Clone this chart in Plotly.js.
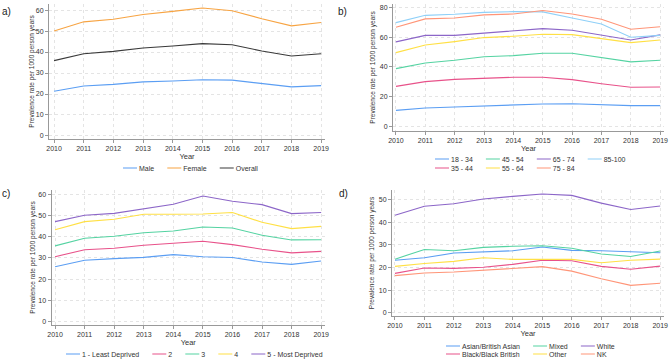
<!DOCTYPE html>
<html>
<head>
<meta charset="utf-8">
<script src="https://cdn.plot.ly/plotly-3.0.1.min.js"></script>
<style>html,body{margin:0;padding:0;background:#fff;}#chart{width:669px;height:360px;}</style>
</head>
<body>
<div id="chart"></div>
<script>
const years = [2010, 2011, 2012, 2013, 2014, 2015, 2016, 2017, 2018, 2019];

// Panel a) sex
const male    = [21.3, 23.8, 24.6, 25.8, 26.2, 26.8, 26.6, 24.9, 23.4, 24.0];
const female  = [50.0, 54.4, 55.6, 57.9, 59.4, 61.0, 59.7, 55.9, 52.5, 54.1];
const overall = [35.9, 39.2, 40.3, 41.9, 42.9, 44.0, 43.5, 40.5, 38.1, 39.2];

// Panel b) age groups
const age18_34  = [10.9, 12.5, 13.2, 13.9, 14.3, 15.2, 15.4, 14.7, 14.1, 14.1];
const age35_44  = [27.0, 30.2, 31.7, 32.6, 33.1, 33.1, 31.5, 28.8, 26.4, 26.6];
const age45_54  = [38.9, 42.7, 44.5, 46.9, 47.6, 49.2, 49.2, 46.5, 43.4, 44.5];
const age55_64  = [49.6, 54.7, 57.0, 59.7, 60.6, 61.9, 61.7, 59.2, 56.3, 58.1];
const age65_74  = [56.8, 61.2, 61.2, 62.8, 64.4, 65.7, 64.6, 61.2, 58.1, 61.5];
const age75_84  = [66.6, 72.2, 72.8, 74.9, 75.5, 77.8, 75.5, 72.0, 65.3, 67.0];
const age85_100 = [69.7, 74.6, 75.3, 76.6, 77.1, 76.9, 72.8, 68.8, 59.9, 61.2];

// Panel c) deprivation quintiles
const dep1 = [25.9, 28.9, 29.7, 30.3, 31.6, 30.6, 30.2, 28.1, 27.0, 28.6];
const dep2 = [30.6, 33.9, 34.6, 36.0, 36.9, 37.9, 36.3, 34.1, 32.4, 33.1];
const dep3 = [35.7, 39.3, 40.2, 41.9, 42.7, 44.6, 44.1, 40.7, 38.5, 38.6];
const dep4 = [43.3, 47.1, 48.2, 50.6, 50.6, 50.7, 51.4, 46.8, 43.8, 44.9];
const dep5 = [47.1, 50.1, 51.0, 53.2, 55.3, 59.2, 56.7, 55.1, 50.9, 51.4];

// Panel d) ethnicity
const asian = [23.2, 24.3, 26.4, 26.8, 27.4, 29.1, 27.6, 27.4, 27.0, 26.5];
const black = [17.4, 19.8, 19.6, 20.1, 21.4, 23.2, 23.0, 20.5, 19.2, 20.6];
const mixed = [23.7, 28.0, 27.4, 28.9, 29.4, 29.6, 28.5, 26.0, 24.9, 27.3];
const other = [20.5, 21.8, 22.7, 24.3, 23.6, 23.7, 23.6, 22.1, 23.2, 23.7];
const white = [43.1, 47.1, 48.2, 50.3, 51.5, 52.5, 51.9, 48.5, 45.7, 47.2];
const nk    = [16.4, 17.6, 18.0, 18.7, 19.5, 20.4, 18.4, 15.0, 12.1, 13.0];

const yTicksA = [0, 10, 20, 30, 40, 50, 60];
const yTicksB = [0, 20, 40, 60, 80];
const yTicksC = [0, 10, 20, 30, 40, 50, 60];
const yTicksD = [0, 10, 20, 30, 40, 50];

const C = {
  blue: '#5b9ef3', orange: '#f7a443', dark: '#3a3a3a', pink: '#e8528a',
  green: '#55d3a2', yellow: '#ffe045', purple: '#8c66c8', salmon: '#ff9578', sky: '#8fd0f8'
};

const W = 669, H = 360;
const px = v => v / W;
const py = v => 1 - v / H;

function tr(name, y, color, ax, legend) {
  return {
    x: years, y: y, name: name, type: 'scatter', mode: 'lines',
    line: {color: color, width: 1.1},
    xaxis: 'x' + (ax === 1 ? '' : ax), yaxis: 'y' + (ax === 1 ? '' : ax),
    legend: legend, hoverinfo: 'skip'
  };
}

const data = [
  tr('Male', male, C.blue, 1, 'legend'),
  tr('Female', female, C.orange, 1, 'legend'),
  tr('Overall', overall, C.dark, 1, 'legend'),

  tr('18 - 34', age18_34, C.blue, 2, 'legend2'),
  tr('45 - 54', age45_54, C.green, 2, 'legend2'),
  tr('65 - 74', age65_74, C.purple, 2, 'legend2'),
  tr('85-100', age85_100, C.sky, 2, 'legend2'),
  tr('35 - 44', age35_44, C.pink, 2, 'legend3'),
  tr('55 - 64', age55_64, C.yellow, 2, 'legend3'),
  tr('75 - 84', age75_84, C.salmon, 2, 'legend3'),

  tr('1 - Least Deprived', dep1, C.blue, 3, 'legend4'),
  tr('2', dep2, C.pink, 3, 'legend4'),
  tr('3', dep3, C.green, 3, 'legend4'),
  tr('4', dep4, C.yellow, 3, 'legend4'),
  tr('5 - Most Deprived', dep5, C.purple, 3, 'legend4'),

  tr('Asian/British Asian', asian, C.blue, 4, 'legend5'),
  tr('Mixed', mixed, C.green, 4, 'legend5'),
  tr('White', white, C.purple, 4, 'legend5'),
  tr('Black/Black British', black, C.pink, 4, 'legend6'),
  tr('Other', other, C.yellow, 4, 'legend6'),
  tr('NK', nk, C.salmon, 4, 'legend6')
];

const font = {family: 'Liberation Sans, Arial, sans-serif', size: 7, color: '#333'};
const tickFont = {family: 'Liberation Sans, Arial, sans-serif', size: 7, color: '#333'};

function xax(l, r) {
  return {
    domain: [px(l), px(r)],
    tickvals: years, ticktext: years.map(String), tickfont: tickFont,
    ticks: 'outside', ticklen: 3, tickcolor: '#999', tickwidth: 1,
    showline: true, linecolor: '#999', linewidth: 1, mirror: false,
    showgrid: true, gridcolor: '#e4e4e4', griddash: 'dot', gridwidth: 1,
    zeroline: false, fixedrange: true, automargin: false,
    title: {text: 'Year', font: {family: font.family, size: 7.5, color: '#333'}, standoff: 1}
  };
}
function yax(t, b, range, ticks, standoff) {
  return {
    domain: [py(b), py(t)], range: range,
    tickvals: ticks, tickfont: tickFont,
    ticks: 'outside', ticklen: 3, tickcolor: '#999', tickwidth: 1,
    showline: true, linecolor: '#999', linewidth: 1,
    showgrid: true, gridcolor: '#e4e4e4', griddash: 'dot', gridwidth: 1,
    zeroline: false, fixedrange: true, automargin: false,
    title: {text: 'Prevalence rate per 1000 person years', font: {family: font.family, size: 6.5, color: '#333'}, standoff: standoff}
  };
}

const legBase = {
  orientation: 'h', font: {family: font.family, size: 7, color: '#333'},
  bgcolor: 'rgba(0,0,0,0)', borderwidth: 0, xanchor: 'left', yanchor: 'middle',
  itemwidth: 30, tracegroupgap: 0, itemclick: false, itemdoubleclick: false
};
function leg(x, y) {
  return Object.assign({}, legBase, {x: px(x), y: py(y)});
}

const layout = {
  width: W, height: H, margin: {l: 0, r: 0, t: 0, b: 0, pad: 0, autoexpand: false},
  paper_bgcolor: '#fff', plot_bgcolor: '#fff', font: font, showlegend: true,
  xaxis:  Object.assign(xax(49, 325), {anchor: 'y',  range: [2009.83, 2019.13]}),
  yaxis:  Object.assign(yax(4, 139, [-1.45, 62.9], yTicksA, 0), {anchor: 'x'}),
  xaxis2: Object.assign(xax(393, 664), {anchor: 'y2', range: [2009.9, 2019.13]}),
  yaxis2: Object.assign(yax(4, 131, [-2.9, 82.2], yTicksB, 3), {anchor: 'x2'}),
  xaxis3: Object.assign(xax(51.5, 325), {anchor: 'y3', range: [2009.88, 2019.13]}),
  yaxis3: Object.assign(yax(190, 325, [-1.55, 62], yTicksC, 2), {anchor: 'x3'}),
  xaxis4: Object.assign(xax(392, 664), {anchor: 'y4', range: [2009.9, 2019.13]}),
  yaxis4: Object.assign(yax(190, 316, [-1.46, 54.3], yTicksD, 3), {anchor: 'x4'}),
  legend:  leg(118, 168),
  legend2: leg(430, 159),
  legend3: leg(430, 168),
  legend4: leg(61, 354),
  legend5: leg(441, 346),
  legend6: leg(441, 354),
  annotations: [
    {text: 'a)', x: 0, y: py(12), xref: 'paper', yref: 'paper', xanchor: 'left', yanchor: 'middle', showarrow: false, font: {family: font.family, size: 10, color: '#222'}},
    {text: 'b)', x: px(336), y: py(12), xref: 'paper', yref: 'paper', xanchor: 'left', yanchor: 'middle', showarrow: false, font: {family: font.family, size: 10, color: '#222'}},
    {text: 'c)', x: 0, y: py(193), xref: 'paper', yref: 'paper', xanchor: 'left', yanchor: 'middle', showarrow: false, font: {family: font.family, size: 10, color: '#222'}},
    {text: 'd)', x: px(337), y: py(193), xref: 'paper', yref: 'paper', xanchor: 'left', yanchor: 'middle', showarrow: false, font: {family: font.family, size: 10, color: '#222'}}
  ]
};

// Compact legend entries: shorter line sample, columns placed where the reference puts them.
const LEGEND_ROWS = [
  {ids: ['legend'], cols: [123, 165, 218]},
  {ids: ['legend2', 'legend3'], cols: [435, 484, 533, 582]},
  {ids: ['legend4'], cols: [66, 138, 182, 213, 243]},
  {ids: ['legend5', 'legend6'], cols: [446, 533, 579]}
];
function legendText(it) {
  return it.querySelector('text[class^="legend"][class$="text"]');
}
function compactLegends() {
  const gd = document.getElementById('chart');
  const SAMPLE = 14, TEXT_X = 5 + SAMPLE + 2, GAP = 8;
  LEGEND_ROWS.forEach(grp => {
    const rows = grp.ids.map(id => {
      const g = gd.querySelector('.infolayer > g.' + id);
      let lx = null;
      if (g) {
        const m = /translate\(\s*([-\d.]+)/.exec(g.getAttribute('transform') || '');
        if (m) lx = parseFloat(m[1]);
      }
      return {lx: lx, items: g ? Array.from(g.querySelectorAll('g.traces')) : []};
    });
    const widths = [];
    rows.forEach(r => r.items.forEach((it, j) => {
      const t = legendText(it);
      const w = t ? t.getBBox().width : 0;
      widths[j] = Math.max(widths[j] || 0, w);
    }));
    rows.forEach(r => {
      let x = null;
      r.items.forEach((it, j) => {
        if (!it.dataset.ox) {
          const m = /translate\(\s*([-\d.]+)[ ,]+([-\d.]+)\s*\)/.exec(it.getAttribute('transform') || '');
          it.dataset.ox = m ? m[1] : '0';
          it.dataset.oy = m ? m[2] : '0';
        }
        if (x === null) x = parseFloat(it.dataset.ox);
        if (r.lx !== null && grp.cols[j] !== undefined) {
          const target = grp.cols[j] - r.lx - 5;
          x = Math.max(x, target);
        }
        it.setAttribute('transform', 'translate(' + x + ',' + it.dataset.oy + ')');
        it.querySelectorAll('g.legendlines path').forEach(p => p.setAttribute('d', 'M5,0h' + SAMPLE));
        const t = legendText(it);
        if (t) {
          t.setAttribute('x', TEXT_X);
          t.querySelectorAll('tspan[x]').forEach(s => s.setAttribute('x', TEXT_X));
        }
        x += TEXT_X + widths[j] + GAP;
      });
    });
  });
}

Plotly.newPlot('chart', data, layout, {staticPlot: true, displayModeBar: false}).then(gd => {
  compactLegends();
  gd.on('plotly_afterplot', compactLegends);
  setTimeout(compactLegends, 30);
  setTimeout(compactLegends, 200);
});
</script>
</body>
</html>
